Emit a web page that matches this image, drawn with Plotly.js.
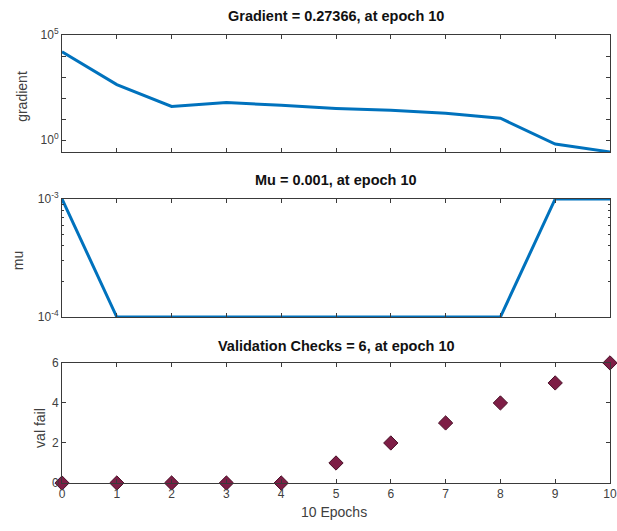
<!DOCTYPE html>
<html><head><meta charset="utf-8">
<script src="https://cdn.plot.ly/plotly-3.0.1.min.js"></script>
<style>html,body{margin:0;padding:0;background:#fff}</style>
</head><body><div id="chart" style="width:617px;height:531px"></div>
<script>
const epochs = [0,1,2,3,4,5,6,7,8,9,10];
const gradientVals = [16000, 440, 40, 62, 45, 32, 26, 19, 11, 0.65, 0.27366];
const muVals = [0.001, 0.0001, 0.0001, 0.0001, 0.0001, 0.0001, 0.0001, 0.0001, 0.0001, 0.001, 0.001];
const valFail = [0,0,0,0,0,1,2,3,4,5,6];
const titles = ["Gradient = 0.27366, at epoch 10", "Mu = 0.001, at epoch 10", "Validation Checks = 6, at epoch 10"];
const yLabels = ["gradient", "mu", "val fail"];
const xLabel = "10 Epochs";

const blue = '#0072BD';
const axisCol = '#3a3a3a';
const fam = 'Liberation Sans, Arial, sans-serif';
const font = {family: fam, size: 12, color: '#404040'};
const labelFont = {family: fam, size: 14, color: '#404040'};
const titleFont = {family: fam, size: 14.5, color: '#111'};

const traces = [
  {x: epochs, y: gradientVals, xaxis: 'x', yaxis: 'y', mode: 'lines', line: {color: blue, width: 3}},
  {x: epochs, y: muVals, xaxis: 'x2', yaxis: 'y2', mode: 'lines', line: {color: blue, width: 3}},
  {x: epochs, y: valFail, xaxis: 'x3', yaxis: 'y3', mode: 'markers', cliponaxis: false,
   marker: {symbol: 'diamond', size: 11, color: '#7E1E46', line: {color: '#4a1028', width: 1}}}
];

function xax(showLabels, anchor) {
  return {domain: [0, 1], anchor: anchor, range: [0, 10], tickmode: 'array', tickvals: epochs,
    showticklabels: showLabels, ticks: 'inside', ticklen: 4, tickcolor: axisCol, tickwidth: 1,
    showline: true, linecolor: axisCol, linewidth: 1, mirror: 'ticks', showgrid: false, zeroline: false,
    tickfont: font, ticklabeloverflow: 'allow'};
}
const gradTicks = [1, 10, 100, 1000, 10000, 100000];
const gradText = ['10<sup>0</sup>', '', '', '', '', '10<sup>5</sup>'];
const muMinor = [0.0002,0.0003,0.0004,0.0005,0.0006,0.0007,0.0008,0.0009];

const layout = {
  width: 617, height: 531, showlegend: false,
  paper_bgcolor: '#fff', plot_bgcolor: '#fff',
  margin: {l: 62, r: 7, t: 35, b: 48},
  font: font,
  xaxis: xax(false, 'y'),
  xaxis2: xax(false, 'y2'),
  xaxis3: xax(true, 'y3'),
  yaxis: {domain: [0.739, 1], anchor: 'x', type: 'log', range: [Math.log10(0.27366), 5],
    tickmode: 'array', tickvals: gradTicks, ticktext: gradText, ticks: 'inside', ticklen: 4, tickcolor: axisCol,
    showline: true, linecolor: axisCol, mirror: 'ticks', showgrid: false, zeroline: false, tickfont: font},
  yaxis2: {domain: [0.3705, 0.634], anchor: 'x2', type: 'log', range: [-4, -3],
    tickmode: 'array', tickvals: [0.0001, 0.001], ticktext: ['10<sup>-4</sup>', '10<sup>-3</sup>'],
    ticks: 'inside', ticklen: 4, tickcolor: axisCol,
    minor: {tickmode: 'array', tickvals: muMinor, ticks: 'inside', ticklen: 2, tickcolor: axisCol, showgrid: false},
    showline: true, linecolor: axisCol, mirror: 'ticks', showgrid: false, zeroline: false, tickfont: font},
  yaxis3: {domain: [0, 0.268], anchor: 'x3', range: [0, 6], tickmode: 'array', tickvals: [0, 2, 4, 6],
    ticks: 'inside', ticklen: 4, tickcolor: axisCol,
    showline: true, linecolor: axisCol, mirror: 'ticks', showgrid: false, zeroline: false, tickfont: font},
  annotations: [
    {text: '<b>' + titles[0] + '</b>', xref: 'paper', yref: 'paper', x: 0.5, y: 1.0, yshift: 19, xanchor: 'center', yanchor: 'middle', showarrow: false, font: titleFont},
    {text: '<b>' + titles[1] + '</b>', xref: 'paper', yref: 'paper', x: 0.5, y: 0.634, yshift: 19, xanchor: 'center', yanchor: 'middle', showarrow: false, font: titleFont},
    {text: '<b>' + titles[2] + '</b>', xref: 'paper', yref: 'paper', x: 0.5, y: 0.268, yshift: 17, xanchor: 'center', yanchor: 'middle', showarrow: false, font: titleFont},
    {text: yLabels[0], xref: 'paper', yref: 'paper', x: 0, xshift: -40, y: 0.862, xanchor: 'center', yanchor: 'middle', textangle: -90, showarrow: false, font: labelFont},
    {text: yLabels[1], xref: 'paper', yref: 'paper', x: 0, xshift: -44, y: 0.495, xanchor: 'center', yanchor: 'middle', textangle: -90, showarrow: false, font: labelFont},
    {text: yLabels[2], xref: 'paper', yref: 'paper', x: 0, xshift: -22, y: 0.123, xanchor: 'center', yanchor: 'middle', textangle: -90, showarrow: false, font: labelFont},
    {text: xLabel, xref: 'paper', yref: 'paper', x: 0.497, y: 0, yshift: -29, xanchor: 'center', yanchor: 'middle', showarrow: false, font: labelFont}
  ]
};
Plotly.newPlot('chart', traces, layout, {displayModeBar: false, staticPlot: true});
</script></body></html>
